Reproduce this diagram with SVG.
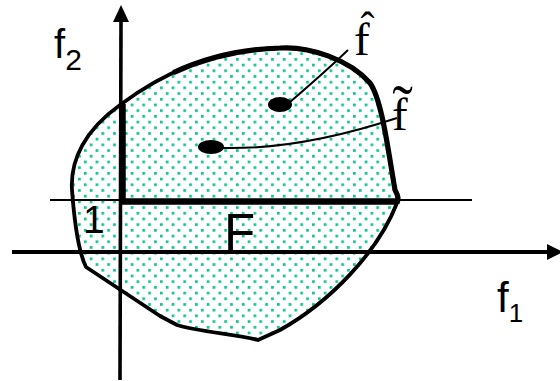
<svg xmlns="http://www.w3.org/2000/svg" width="560" height="381" viewBox="0 0 560 381">
<style>
.sans{font-family:"Liberation Sans",Arial,sans-serif;fill:#000}
.serif{font-family:"Liberation Serif","Times New Roman",serif;fill:#000}
.ln{fill:none;stroke:#000;stroke-linecap:butt}
</style>
<defs>
<pattern id="dots" patternUnits="userSpaceOnUse" width="11.7" height="11.4" x="2" y="1">
<rect x="0" y="0" width="2.7" height="2.7" fill="#0cc494"/>
<rect x="5.85" y="5.7" width="2.7" height="2.7" fill="#0cc494"/>
</pattern>
</defs>
<rect width="560" height="381" fill="#fff"/>
<g id="region">
<path d="M 72,190 C 70,160 85,130 120,105 C 160,75 210,50 280,48 C 310,46 350,60 370,83 C 382,100 388,150 395,190 C 398,195 399,199 397,203 C 378,252 330,302 280,330 L 258,340 C 235,334 200,332 177,325 L 160,316 L 86,267 C 80,255 75,230 72,190 Z" fill="url(#dots)" stroke="#000" stroke-width="3.8" stroke-linejoin="round"/>
<path class="ln" d="M 173.4,72.6 C 203.2,58.7 238,49.2 280,48 C 310,46 350,60 370,83 C 382,100 388,150 395,190 C 398,195 399,199 397,203" stroke-width="5.2" stroke-linejoin="round"/>
</g>
<g id="connectors">
<line class="ln" x1="50" y1="200" x2="472" y2="200" stroke-width="1.8"/>
<line class="ln" x1="12" y1="252" x2="550" y2="252" stroke-width="4"/>
<polygon points="547,244 563,252 547,260" fill="#000"/>
<line class="ln" x1="121" y1="20" x2="120" y2="380" stroke-width="3.6"/>
<polygon points="113,22 121,5 129,22" fill="#000"/>
<line class="ln" x1="122.5" y1="104" x2="122.5" y2="204" stroke-width="6.5"/>
<line class="ln" x1="120" y1="201.5" x2="398" y2="201.5" stroke-width="6.5"/>
<path class="ln" d="M 290,102 Q 325,72 348,50" stroke-width="2"/>
<path class="ln" d="M 222,148 Q 300,150 397,118" stroke-width="2"/>
</g>
<g id="fhat">
<ellipse cx="280" cy="104.5" rx="12" ry="7.5" fill="#000"/>
<text class="serif" x="354" y="55" font-size="47">f<tspan x="367.5" y="41" font-size="42" text-anchor="middle">ˆ</tspan></text>
</g>
<g id="ftilde">
<ellipse cx="211" cy="147" rx="13" ry="7" fill="#000"/>
<text class="serif" x="392" y="130" font-size="47">f<tspan x="402.5" y="128" font-size="62" text-anchor="middle">˜</tspan></text>
</g>
<g id="labels">
<text class="sans" x="54" y="58" font-size="40">f<tspan font-size="30" dy="12">2</tspan></text>
<text class="sans" x="497" y="312" font-size="42">f<tspan font-size="26" dy="10">1</tspan></text>
<text class="sans" x="83" y="233" font-size="39">1</text>
<text class="sans" x="224" y="250" font-size="51">F</text>
</g>
</svg>
